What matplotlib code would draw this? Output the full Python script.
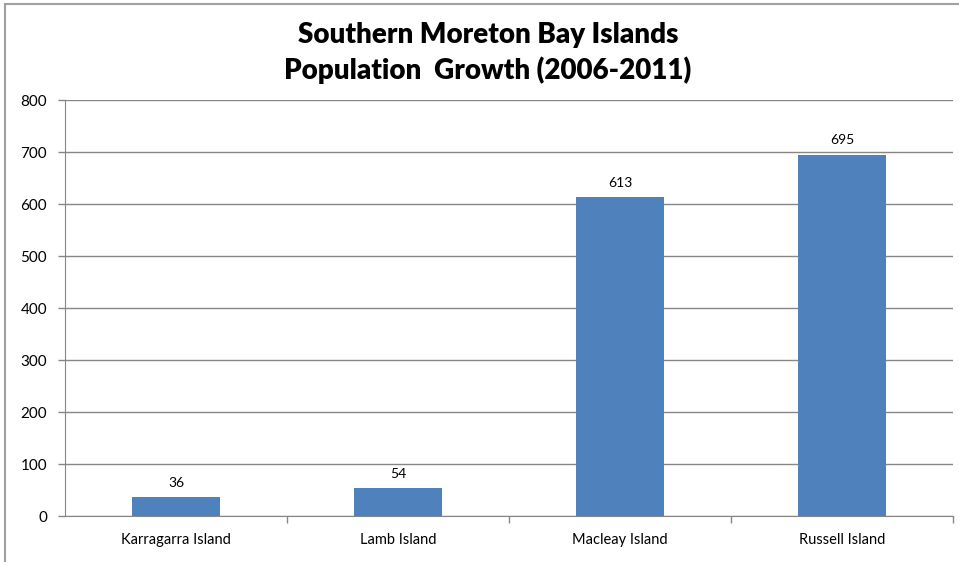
import matplotlib.pyplot as plt
from matplotlib.patches import Rectangle

islands = ['Karragarra Island', 'Lamb Island', 'Macleay Island', 'Russell Island']
growth = [36, 54, 613, 695]
yticks = [0, 100, 200, 300, 400, 500, 600, 700, 800]

plt.rcParams['font.family'] = ['Lato', 'DejaVu Sans']

W, H = 959, 562
fig = plt.figure(figsize=(W / 100, H / 100), dpi=100)
ax = fig.add_axes([65 / W, 1 - 516 / H, (953 - 65) / W, (516 - 100) / H])

grey = '#868686'
x = range(len(islands))
bars = ax.bar(x, growth, width=0.4, color='#4F81BD', zorder=3)
for xi, v in zip(x, growth):
    ax.annotate(str(v), (xi, v), xytext=(0, 6), textcoords='offset points',
                ha='center', va='bottom', fontsize=10)

ax.set_xlim(-0.5, len(islands) - 0.5)
ax.set_ylim(0, 800)
ax.set_yticks(yticks)
ax.set_yticklabels([str(t) for t in yticks], fontsize=11)
ax.yaxis.grid(True, color=grey, lw=1, zorder=0)
ax.tick_params(axis='y', length=5, color=grey, width=1, pad=8)

# category labels, ticks between categories
ax.set_xticks(list(x))
ax.set_xticklabels(islands, fontsize=10.5)
ax.tick_params(axis='x', length=0, pad=12)
ax.set_xticks([i + 0.5 for i in range(len(islands))], minor=True)
ax.tick_params(axis='x', which='minor', length=5, color=grey, width=1)

for side in ['top', 'right']:
    ax.spines[side].set_visible(False)
for side in ['left', 'bottom']:
    ax.spines[side].set_color(grey)

fig.text(488 / W, 1 - 35 / H, 'Southern Moreton Bay Islands', ha='center', va='center',
         fontsize=20, fontweight='heavy')
fig.text(488 / W, 1 - 70 / H, 'Population  Growth (2006-2011)', ha='center', va='center',
         fontsize=20, fontweight='heavy')

# chart border
fig.patches.append(Rectangle((5 / W, -0.1), 1.2, 1 - 4 / H + 0.1, transform=fig.transFigure,
                             fill=False, edgecolor='#A0A0A0', lw=1.5))

fig.savefig('out.png', dpi=100)
